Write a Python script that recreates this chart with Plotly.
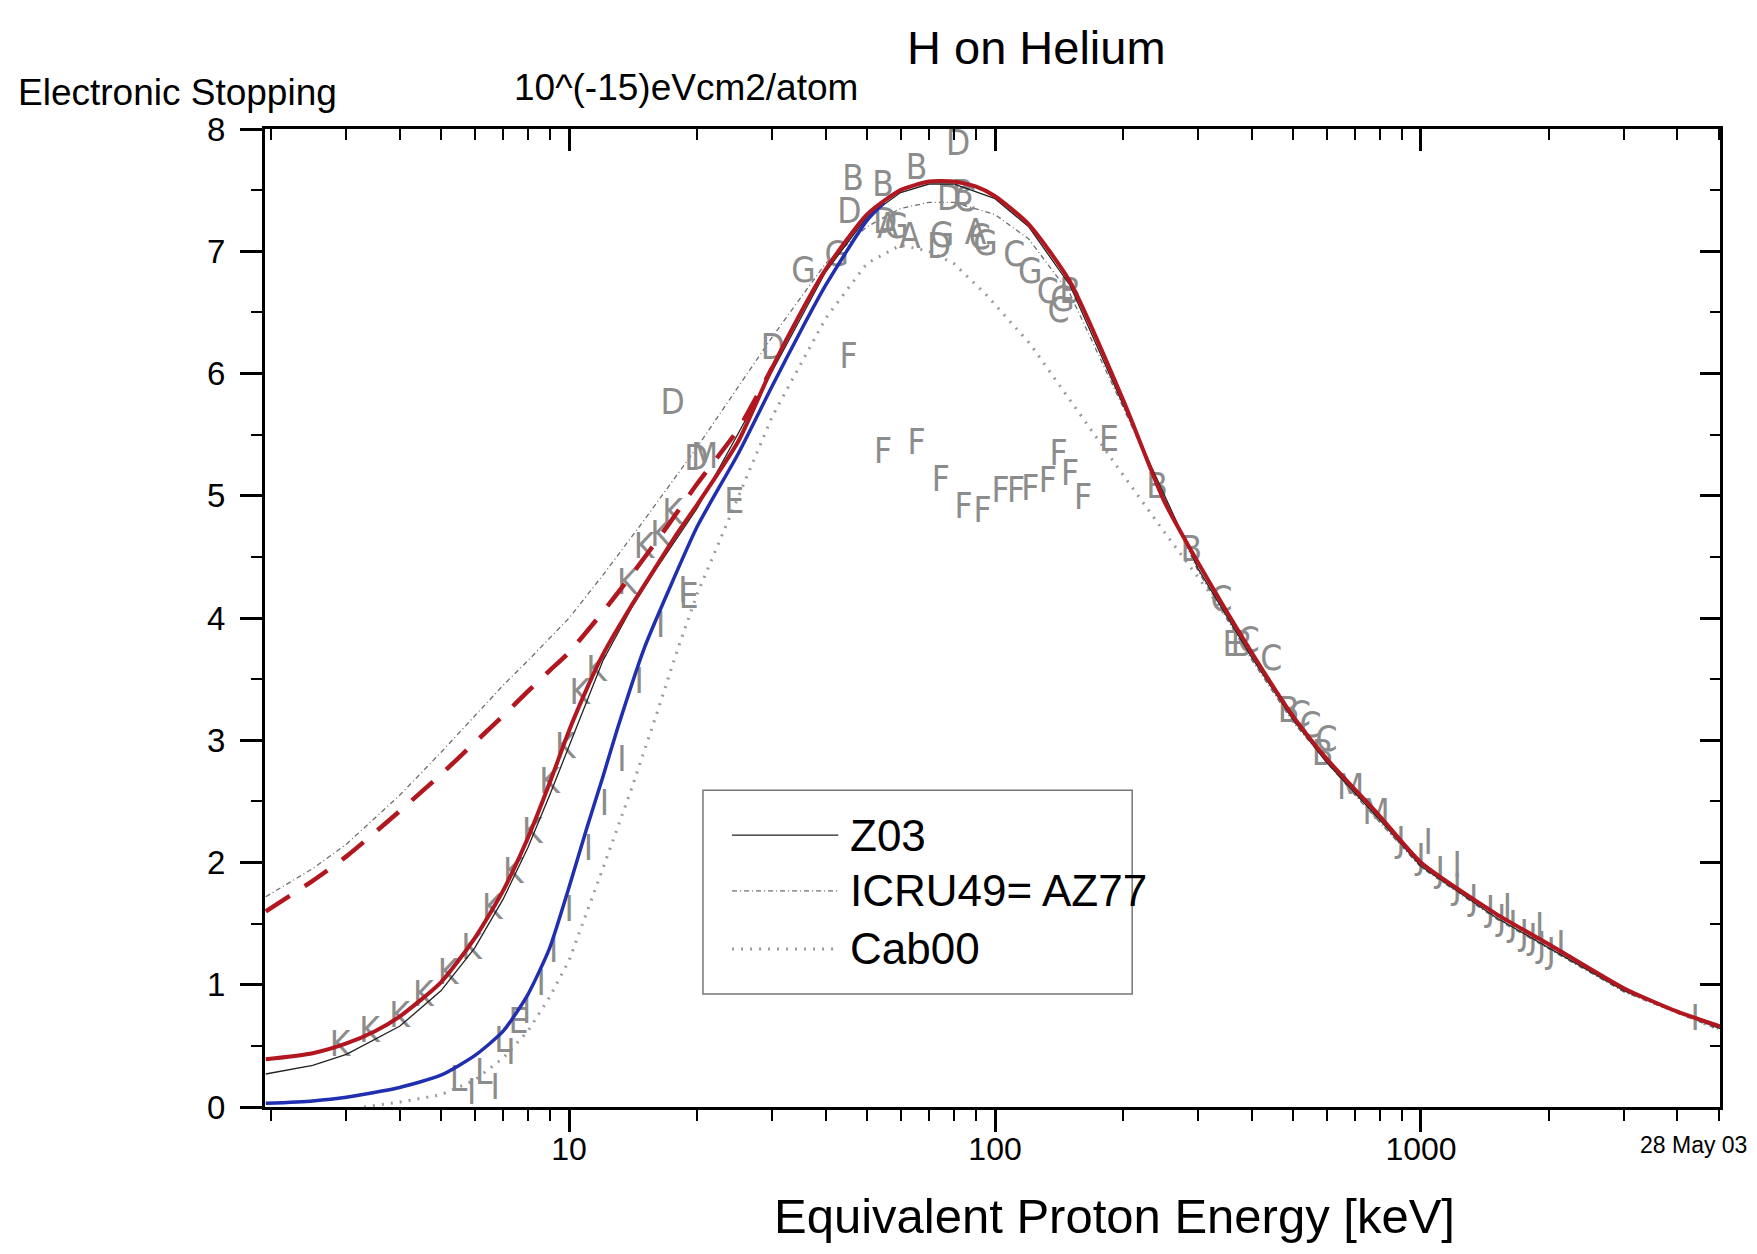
import plotly.graph_objects as go

FONT = "Liberation Sans, Arial, sans-serif"
LETTER_FONT = "Liberation Sans Narrow, DejaVu Sans Condensed, Liberation Sans, Arial, sans-serif"

# ---------------- curves (energy keV, stopping 1e-15 eV cm2/atom) ----------------
red_E = [1.94, 2.5, 3.0, 3.5, 4.0, 5.0, 6.0, 7.0, 8.0, 9.0, 10, 11, 12, 14, 16, 18, 20, 25, 30, 35,
         40, 50, 60, 70, 80, 90, 100, 120, 150, 200, 250, 300, 400, 500, 600, 800, 1000, 1500,
         2000, 3000, 4000, 5040]
red_S = [0.39, 0.44, 0.52, 0.62, 0.74, 1.02, 1.38, 1.77, 2.2, 2.65, 3.08, 3.42, 3.7, 4.1, 4.42,
         4.7, 4.93, 5.45, 6.05, 6.5, 6.85, 7.3, 7.5, 7.57, 7.57, 7.53, 7.45, 7.22, 6.75, 5.78,
         4.95, 4.45, 3.72, 3.2, 2.85, 2.38, 2.0, 1.58, 1.33, 0.97, 0.78, 0.66]

blue_E = [1.94, 2.5, 3, 4, 5, 6, 7, 8, 9, 10, 11, 12, 13, 15, 17, 20, 25, 30, 35, 40, 50, 55]
blue_S = [0.03, 0.05, 0.08, 0.16, 0.26, 0.42, 0.62, 0.92, 1.3, 1.8, 2.28, 2.7, 3.1, 3.75, 4.2,
          4.75, 5.35, 5.9, 6.35, 6.72, 7.25, 7.4]

dash_E = [1.94, 2.5, 3, 4, 5, 6, 7, 8, 9, 10, 12, 14, 17, 20, 25, 30]
dash_S = [1.6, 1.85, 2.05, 2.42, 2.72, 2.98, 3.2, 3.4, 3.57, 3.72, 4.05, 4.35, 4.75, 5.1, 5.55, 6.05]

z03_E = [1.94, 2.5, 3, 4, 5, 6, 7, 8, 9, 10, 12, 14, 16, 20, 30, 40, 50, 60, 70, 80, 100, 120,
         150, 200, 300, 400, 500, 600, 800, 1000, 1500, 2000, 3000, 5040]
z03_S = [0.27, 0.34, 0.43, 0.66, 0.95, 1.3, 1.7, 2.12, 2.55, 2.95, 3.65, 4.08, 4.4, 4.9, 6.02,
         6.83, 7.28, 7.48, 7.55, 7.55, 7.43, 7.2, 6.72, 5.74, 4.4, 3.68, 3.17, 2.82, 2.35, 1.97,
         1.55, 1.3, 0.95, 0.64]

icru_E = [1.94, 2.5, 3, 4, 5, 6, 7, 8, 10, 12, 15, 20, 25, 30, 40, 50, 60, 70, 80, 100, 120,
          150, 200, 300, 400, 500, 700, 1000, 1500, 2000, 3000, 5040]
icru_S = [1.72, 1.95, 2.15, 2.55, 2.9, 3.2, 3.45, 3.65, 4.0, 4.35, 4.8, 5.4, 5.9, 6.3, 6.9, 7.2,
          7.35, 7.4, 7.4, 7.3, 7.1, 6.65, 5.72, 4.38, 3.66, 3.15, 2.55, 1.96, 1.54, 1.29, 0.94, 0.63]

cab_E = [3.3, 4, 5, 6, 7, 8, 9, 10, 12, 14, 16, 18, 20, 25, 30, 40, 50, 60, 70, 80, 95, 121, 155,
         197, 250, 320, 410, 480, 600, 800, 1000, 1500, 2000, 3000, 5040]
cab_S = [0.0, 0.04, 0.1, 0.22, 0.4, 0.62, 0.9, 1.2, 1.95, 2.6, 3.2, 3.75, 4.2, 5.0, 5.65, 6.45,
         6.9, 7.05, 7.0, 6.9, 6.65, 6.24, 5.71, 5.2, 4.7, 4.2, 3.65, 3.3, 2.83, 2.35, 1.97, 1.56,
         1.31, 0.95, 0.63]

# ---------------- experimental data (letters) ----------------
K_E = [2.9, 3.4, 4.0, 4.55, 5.2, 5.9, 6.6, 7.4, 8.2, 9.0, 9.8, 10.6, 11.6, 13.7, 15.0, 16.4, 17.5]
K_S = [0.49, 0.6, 0.73, 0.9, 1.08, 1.28, 1.61, 1.9, 2.23, 2.64, 2.93, 3.37, 3.56, 4.27, 4.56, 4.66, 4.84]

I_E = [5.9, 6.7, 7.3, 7.95, 8.6, 9.2, 10.0, 11.1, 12.1, 13.3, 14.6, 16.4, 18.5,
       1040, 1215, 1595, 1900, 2130, 4400]
I_S = [0.1, 0.14, 0.42, 0.76, 0.99, 1.26, 1.59, 2.09, 2.46, 2.82, 3.46, 3.92, 4.2,
       2.14, 1.95, 1.61, 1.45, 1.31, 0.7]

J_E = [897, 1000, 1109, 1215, 1330, 1456, 1547, 1643, 1746, 1830, 1920, 2020]
J_S = [2.16, 2.02, 1.91, 1.77, 1.68, 1.59, 1.52, 1.47, 1.4, 1.36, 1.3, 1.25]

M_E = [20.8, 683, 785]
M_S = [5.3, 2.59, 2.39]

B_E = [46.4, 54.6, 65.4, 84, 150, 240, 289, 379, 489, 587]
B_S = [7.57, 7.52, 7.66, 7.45, 6.65, 5.05, 4.54, 3.76, 3.22, 2.87]

D_E = [17.5, 19.9, 30.1, 45.5, 55.2, 73.9, 81.9, 78]
D_S = [5.74, 5.28, 6.19, 7.3, 7.22, 7.02, 7.86, 7.41]

A_E = [56, 63.1, 90]
A_S = [7.18, 7.1, 7.13]

G_E = [35.5, 42.5, 58.7, 75, 95, 121, 144]
G_S = [6.82, 6.95, 7.18, 7.11, 7.04, 6.81, 6.58]

C_E = [85, 92, 111, 133, 141, 340, 394, 445, 520, 550, 600]
C_S = [7.4, 7.09, 6.95, 6.65, 6.49, 4.13, 3.79, 3.65, 3.19, 3.1, 2.98]

E_E = [24.4, 19.1, 185, 361, 7.6]
E_S = [4.93, 4.15, 5.44, 3.76, 0.68]

F_E = [45.3, 54.6, 65.4, 74.6, 84.4, 93.5, 103, 112, 121, 133, 141, 150, 161]
F_S = [6.12, 5.34, 5.41, 5.11, 4.89, 4.86, 5.02, 5.02, 5.04, 5.1, 5.32, 5.16, 4.96]

L_E = [5.5, 6.3, 7.0]
L_S = [0.2, 0.26, 0.52]

letter_sets = [("K", K_E, K_S), ("I", I_E, I_S), ("J", J_E, J_S), ("M", M_E, M_S),
               ("B", B_E, B_S), ("D", D_E, D_S), ("A", A_E, A_S), ("G", G_E, G_S),
               ("C", C_E, C_S), ("E", E_E, E_S), ("F", F_E, F_S), ("L", L_E, L_S)]

x_major = [10, 100, 1000]
x_major_text = ["10", "100", "1000"]
x_minor = [2, 3, 4, 5, 6, 7, 8, 9, 20, 30, 40, 50, 60, 70, 80, 90,
           200, 300, 400, 500, 600, 700, 800, 900, 2000, 3000, 4000, 5000]
y_major = [0, 1, 2, 3, 4, 5, 6, 7, 8]
y_minor = [0.5, 1.5, 2.5, 3.5, 4.5, 5.5, 6.5, 7.5]

legend_names = ["Z03", "ICRU49= AZ77", "Cab00"]

XR = [0.286, 3.702]
YR = [0, 8]

RED = "#b2161f"
BLUE = "#1f2fb0"
LETTER = "#8c8c8c"

fig = go.Figure()

fig.add_trace(go.Scatter(x=cab_E, y=cab_S, mode="lines", name="Cab00", showlegend=False,
                         line=dict(color="#9a9a9a", width=3, dash="2px,7px")))
fig.add_trace(go.Scatter(x=icru_E, y=icru_S, mode="lines", name="ICRU49= AZ77", showlegend=False,
                         line=dict(color="#6e6e6e", width=1.3, dash="5px,3px,1px,3px")))

for letter, ex, sx in letter_sets:
    fig.add_trace(go.Scatter(x=ex, y=sx, mode="text", text=[letter] * len(ex), showlegend=False,
                             textfont=dict(family=LETTER_FONT, size=35, color=LETTER),
                             hoverinfo="skip"))

fig.add_trace(go.Scatter(x=z03_E, y=z03_S, mode="lines", name="Z03", showlegend=False,
                         line=dict(color="#222222", width=1.3)))
fig.add_trace(go.Scatter(x=blue_E, y=blue_S, mode="lines", showlegend=False,
                         line=dict(color=BLUE, width=3.5, shape="spline", smoothing=0.6)))
fig.add_trace(go.Scatter(x=dash_E, y=dash_S, mode="lines", showlegend=False,
                         line=dict(color=RED, width=4.5, dash="28px,18px", shape="spline",
                                   smoothing=0.6)))
fig.add_trace(go.Scatter(x=red_E, y=red_S, mode="lines", showlegend=False,
                         line=dict(color=RED, width=4, shape="spline", smoothing=0.6)))

# overlay axes for the inward-pointing ticks on the top and right frame
fig.add_trace(go.Scatter(x=[], y=[], xaxis="x2", yaxis="y2", showlegend=False, hoverinfo="skip"))

axis_common = dict(showline=True, linewidth=3, linecolor="black", showgrid=False, zeroline=False,
                   tickcolor="black", tickwidth=2.5)

fig.update_layout(
    width=1757, height=1254,
    margin=dict(l=257, r=45, t=121, b=155),
    paper_bgcolor="white", plot_bgcolor="white",
    font=dict(family=FONT, color="black"),
    showlegend=False,
    xaxis=dict(type="log", range=XR, tickvals=x_major, ticktext=x_major_text,
               ticks="outside", ticklen=22, tickfont=dict(size=32, family=FONT),
               ticklabelstandoff=-10,
               minor=dict(tickvals=x_minor, ticks="outside", ticklen=11, tickwidth=2,
                          tickcolor="black", showgrid=False),
               **axis_common),
    yaxis=dict(range=YR, tickvals=y_major, ticks="outside", ticklen=22,
               tickfont=dict(size=33, family=FONT), ticklabelstandoff=8,
               minor=dict(tickvals=y_minor, ticks="outside", ticklen=11, tickwidth=2,
                          tickcolor="black", showgrid=False),
               **axis_common),
    xaxis2=dict(type="log", range=XR, overlaying="x", side="top", anchor="y2",
                tickvals=x_major, ticks="inside", ticklen=22, showticklabels=False,
                minor=dict(tickvals=x_minor, ticks="inside", ticklen=11, tickwidth=2,
                           tickcolor="black", showgrid=False),
                **axis_common),
    yaxis2=dict(range=YR, overlaying="y", side="right", anchor="x2",
                tickvals=y_major, ticks="inside", ticklen=20, showticklabels=False,
                minor=dict(tickvals=y_minor, ticks="inside", ticklen=10, tickwidth=2,
                           tickcolor="black", showgrid=False),
                **axis_common),
)

# ---------------- texts ----------------
def ann(text, x, y, size, xanchor="center", yanchor="middle"):
    fig.add_annotation(text=text, x=x, y=y, xref="paper", yref="paper", showarrow=False,
                       xanchor=xanchor, yanchor=yanchor,
                       font=dict(family=FONT, size=size, color="black"))

ann("H on Helium", 0.53, 1.083, 47)
ann("Electronic Stopping", -0.171, 1.037, 37, xanchor="left")
ann("10^(-15)eVcm2/atom", 0.17, 1.042, 37, xanchor="left")
ann("Equivalent Proton Energy [keV]", 0.584, -0.111, 49)
ann("28 May 03", 1.02, -0.039, 23, xanchor="right")

# ---------------- legend box ----------------
lx0, lx1, ly0, ly1 = 0.301, 0.596, 0.1155, 0.324
fig.add_shape(type="rect", xref="paper", yref="paper", x0=lx0, x1=lx1, y0=ly0, y1=ly1,
              line=dict(color="#777777", width=1.5), fillcolor="rgba(0,0,0,0)")
leg_y = [0.278, 0.221, 0.1616]
leg_styles = [dict(color="#222222", width=1.3),
              dict(color="#6e6e6e", width=1.3, dash="5px,3px,1px,3px"),
              dict(color="#9a9a9a", width=3, dash="2px,7px")]
for name, yy, st in zip(legend_names, leg_y, leg_styles):
    fig.add_shape(type="line", xref="paper", yref="paper", x0=0.321, x1=0.394, y0=yy, y1=yy,
                  line=st)
    ann(name, 0.4007, yy, 44, xanchor="left")

fig.write_html("out.html")
